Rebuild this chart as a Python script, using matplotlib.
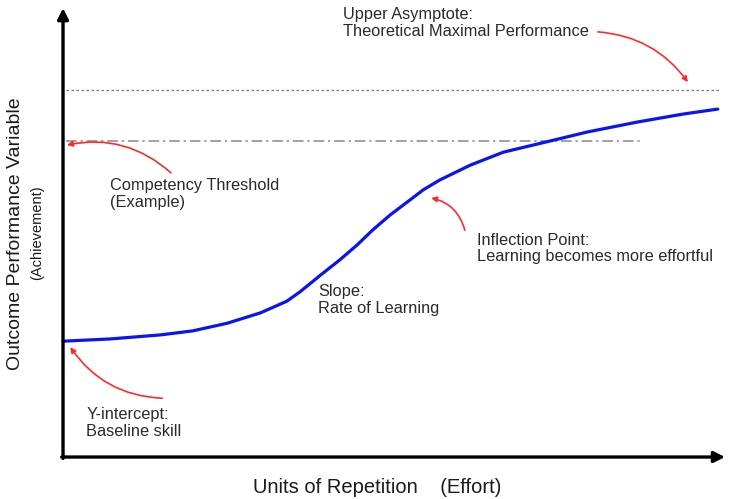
import numpy as np
import matplotlib.pyplot as plt

plt.rcParams['font.family'] = ['Liberation Sans', 'DejaVu Sans']

# learning curve (x: repetitions 0-100, y: performance 0-100)
rep = [0, 7.1, 14.7, 19.6, 24.8, 29.8, 33.8, 35.8, 39.3, 41.8, 44.4, 46.8,
       49.4, 52.0, 54.4, 56.9, 61.5, 66.5, 73.6, 79.2, 86.7, 93.7, 98.9]
perf = [25.8, 26.3, 27.2, 28.1, 29.8, 32.1, 34.7, 36.8, 41.0, 43.9, 47.2, 50.6,
        53.9, 56.8, 59.5, 61.7, 65.0, 67.9, 70.4, 72.4, 74.6, 76.4, 77.5]
asymptote = 81.7
threshold = 70.3

labels = ["Upper Asymptote:\nTheoretical Maximal Performance",
          "Competency Threshold\n(Example)",
          "Inflection Point:\nLearning becomes more effortful",
          "Slope:\nRate of Learning",
          "Y-intercept:\nBaseline skill"]
label_xy = [(42.3, 96.7), (7.1, 58.6), (62.5, 46.5), (38.5, 35.0), (3.5, 7.6)]
arrow_from = [(80.8, 94.7), (16.3, 63.3), (60.7, 50.5), (15.0, 13.1), None]
arrow_to = [(94.4, 83.5), (0.6, 69.5), (55.6, 57.7), (1.1, 24.5), None]
arrow_rad = [-0.23, 0.25, 0.3, -0.25]

fig = plt.figure(figsize=(7.29, 4.99), dpi=100)
ax = fig.add_axes([0, 0, 1, 1])
ax.set_xlim(-9.52, 100.6)
ax.set_ylim(-9.35, 101.8)
ax.axis('off')

# axes with arrow heads
ax.annotate('', xy=(0, 100), xytext=(0, -0.3),
            arrowprops=dict(arrowstyle='-|>', lw=2.4, color='black', mutation_scale=16, shrinkA=0, shrinkB=0))
ax.annotate('', xy=(100, 0), xytext=(-0.2, 0),
            arrowprops=dict(arrowstyle='-|>', lw=2.4, color='black', mutation_scale=16, shrinkA=0, shrinkB=0))

ax.plot([0.5, 99.2], [asymptote, asymptote], color='#777777', lw=0.9, ls=(0, (2, 2)))
ax.plot([0.5, 87.2], [threshold, threshold], color='#888888', lw=1.1, ls=(0, (7, 2.5, 1.5, 2.5)))

ax.plot(rep, perf, color='#0a14f0', lw=2.3, solid_capstyle='round', solid_joinstyle='round')

for i, (txt, (tx, ty)) in enumerate(zip(labels, label_xy)):
    ax.text(tx, ty, txt, fontsize=11.8, color='#2a2a2a', ha='left', va='center', linespacing=1.12)
    if i < len(arrow_rad):
        ax.annotate('', xy=arrow_to[i], xytext=arrow_from[i],
                    arrowprops=dict(arrowstyle='-|>', lw=1.2, color='#ff2a2a', mutation_scale=8,
                                    shrinkA=0, shrinkB=0,
                                    connectionstyle=f'arc3,rad={arrow_rad[i]}'))

ax.text(47.4, -6.7, "Units of Repetition    (Effort)", fontsize=14.5, color='#1a1a1a',
        ha='center', va='center')
ax.text(-7.25, 49.7, "Outcome Performance Variable", fontsize=14, color='#1a1a1a',
        ha='center', va='center', rotation=90)
ax.text(-3.9, 49.9, "(Achievement)", fontsize=10.5, color='#1a1a1a',
        ha='center', va='center', rotation=90)

fig.savefig('out.png', dpi=100, facecolor='white')
